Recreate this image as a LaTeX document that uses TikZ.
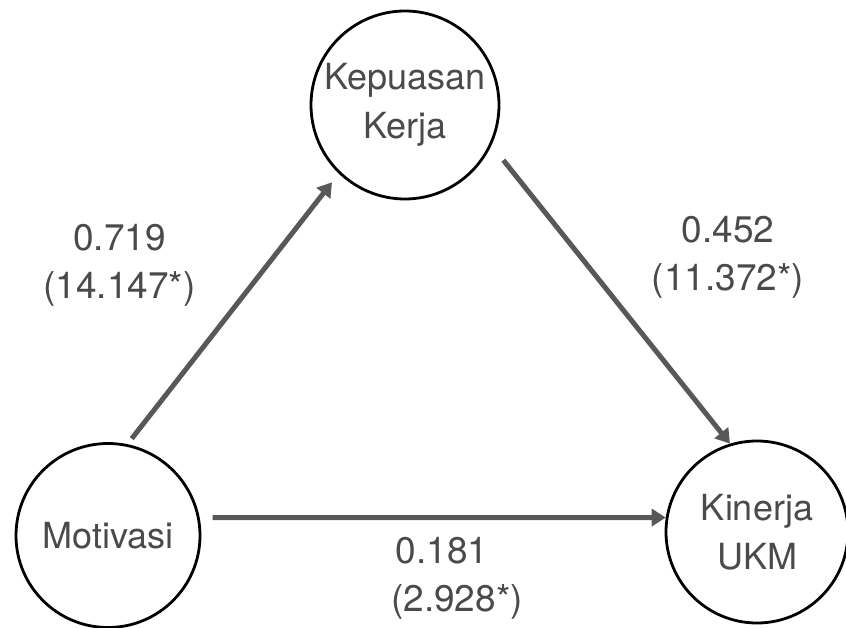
\documentclass[tikz,border=0pt]{standalone}
\usepackage{fontspec}
\setmainfont{TeX Gyre Heros}
\usetikzlibrary{arrows.meta}
\definecolor{txtgray}{RGB}{74,74,74}
\definecolor{arrgray}{RGB}{88,88,88}
\tikzset{
  varnode/.style={circle, draw=black, line width=2.8pt, inner sep=0pt, align=center,
    text=txtgray, font=\fontsize{36}{49}\selectfont},
  pathlbl/.style={align=center, text=txtgray, inner sep=0pt, font=\fontsize{37}{48}\selectfont},
  patharrow/.style={draw=arrgray, line width=5pt, -{Triangle[length=14pt,width=17pt]}}
}
\begin{document}
\begin{tikzpicture}[x=1pt,y=-1pt]
\useasboundingbox (0,0) rectangle (846,628);
\node[varnode, minimum size=188pt] (kep) at (405,105) {Kepuasan\\Kerja};
\node[varnode, minimum size=184pt] (mot) at (108,535.5) {Motivasi};
\node[varnode, minimum size=182pt] (kin) at (757,532) {Kinerja\\UKM};
\draw[patharrow, shorten <=7pt, shorten >=11pt] (mot.78) -- (kep.226.5);
\draw[patharrow, shorten <=19pt] (kep.-25) -- (kin.107);
\draw[patharrow, shorten <=13pt] (mot.11) -- (kin.171);
\node[pathlbl] (l1) at (119.5,265) {0.719\\(14.147*)};
\node[pathlbl] (l2) at (728,257) {0.452\\(11.372*)};
\node[pathlbl] (l3) at (457,578) {0.181\hspace*{30pt}\\(2.928*)};
\end{tikzpicture}
\end{document}
